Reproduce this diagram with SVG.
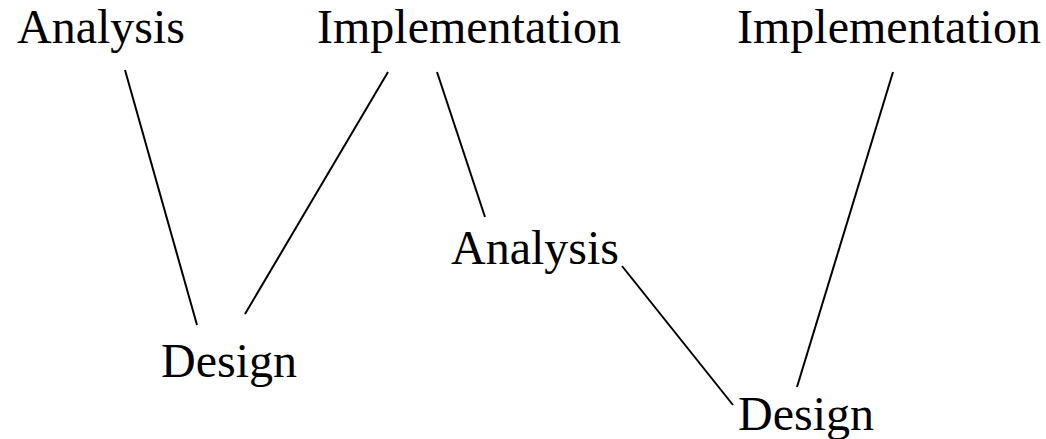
<svg xmlns="http://www.w3.org/2000/svg" width="1046" height="439" viewBox="0 0 1046 439">
<style>
text{font-family:"Liberation Serif","Times New Roman",serif;font-size:48px;fill:#000}
line{stroke:#000;stroke-width:2}
</style>
<rect width="1046" height="439" fill="#fff"/>
<g id="connectors">
<line x1="125" y1="70" x2="197" y2="325"/>
<line x1="388" y1="72" x2="245" y2="314"/>
<line x1="437" y1="72" x2="485" y2="217"/>
<line x1="622" y1="266" x2="733" y2="405"/>
<line x1="893" y1="72" x2="797" y2="387"/>
</g>
<g id="analysis1"><text x="17" y="43">Analysis</text></g>
<g id="implementation1"><text x="317" y="43">Implementation</text></g>
<g id="implementation2"><text x="737" y="43">Implementation</text></g>
<g id="analysis2"><text x="451" y="264">Analysis</text></g>
<g id="design1"><text x="161" y="377">Design</text></g>
<g id="design2"><text x="738" y="430">Design</text></g>
</svg>
